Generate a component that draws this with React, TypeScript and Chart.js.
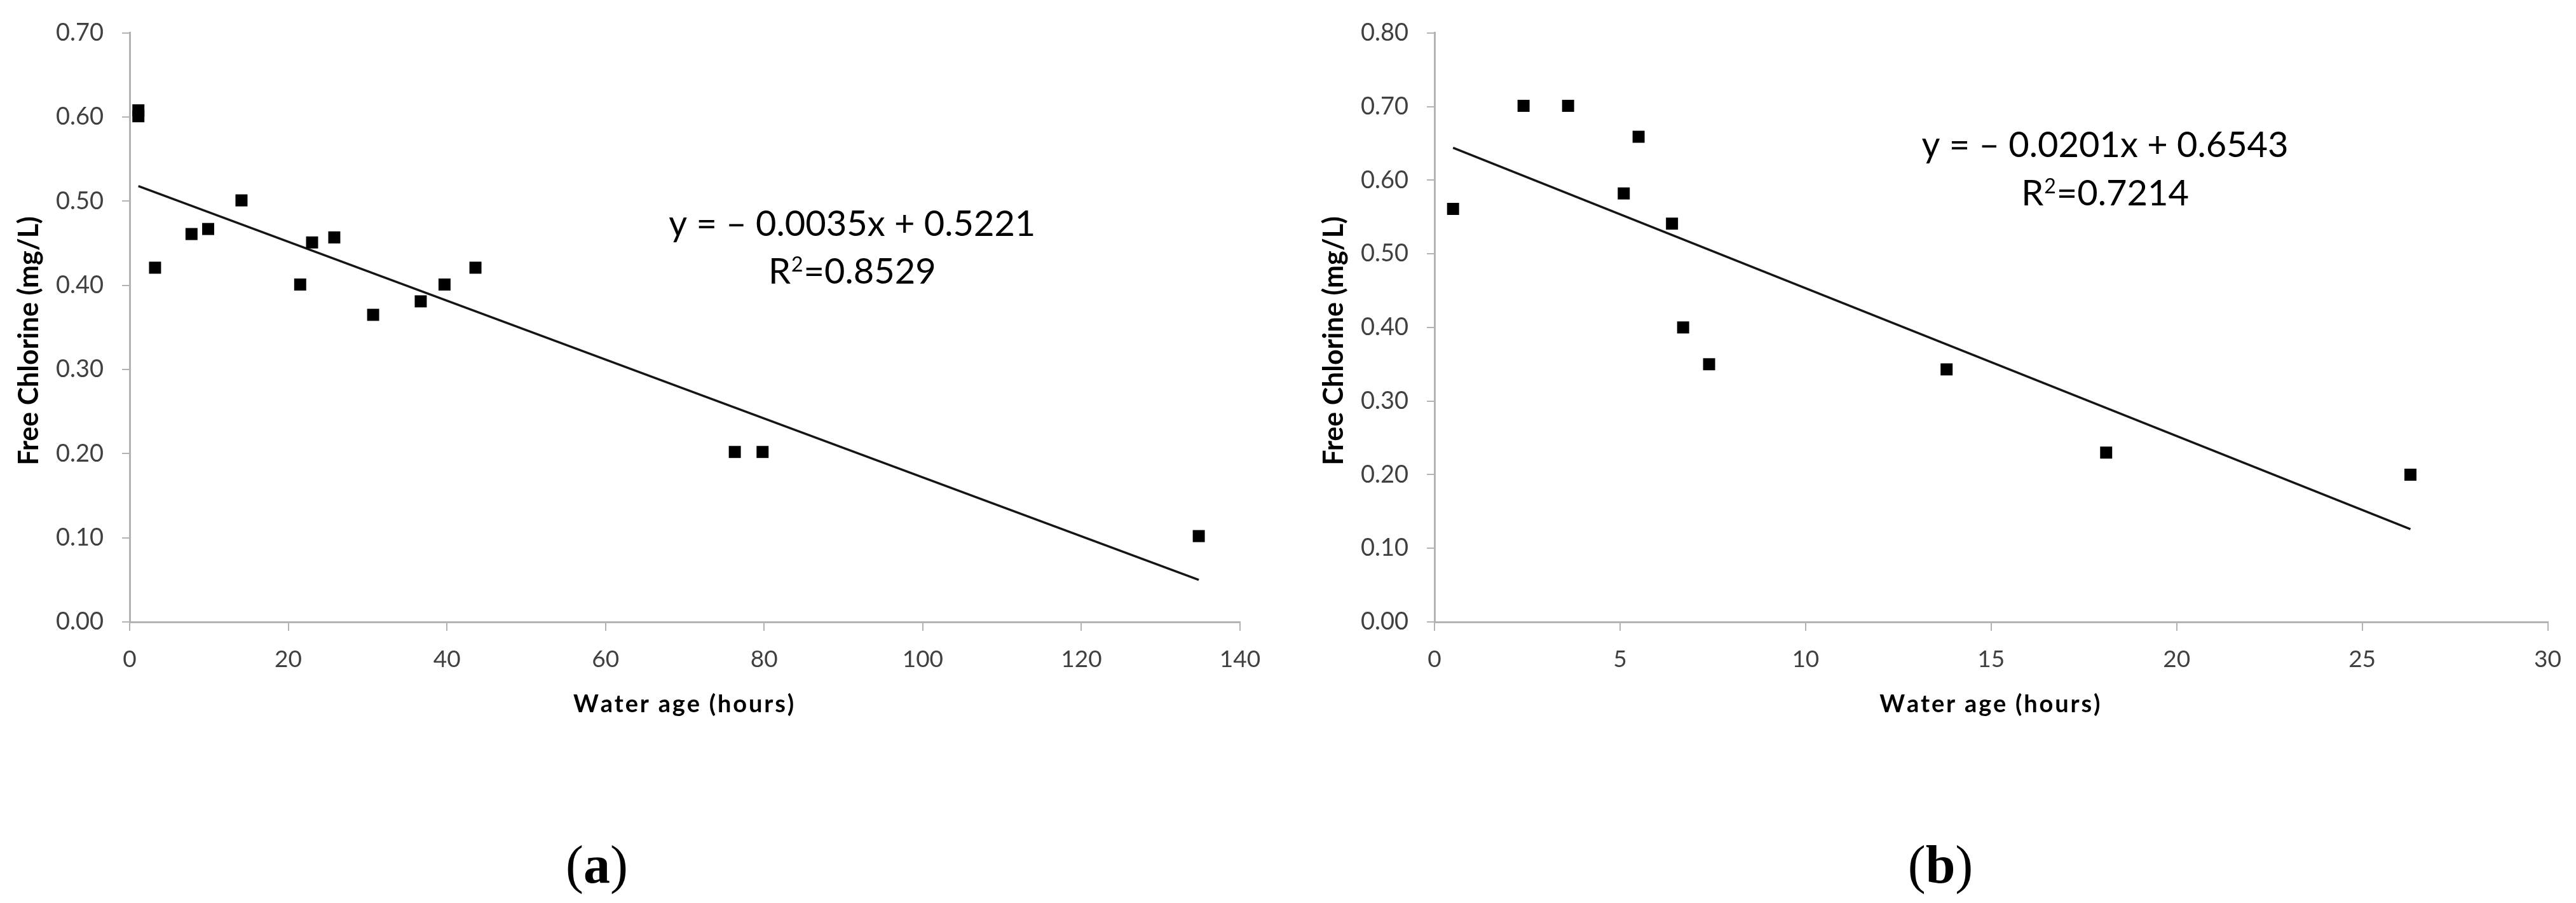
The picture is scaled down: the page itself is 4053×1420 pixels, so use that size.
import React, { useEffect, useRef } from "react";
import { Chart, registerables } from "chart.js";

Chart.register(...registerables);

// ---------- Data: panel (a) ----------
const ageA = [1.1, 1.1, 3.2, 7.8, 9.9, 14.1, 21.5, 23.0, 25.8, 30.7, 36.7, 39.7, 43.6, 76.3, 79.8, 134.8];
const chlorineA = [0.608, 0.601, 0.421, 0.461, 0.467, 0.501, 0.401, 0.451, 0.457, 0.365, 0.381, 0.401, 0.421, 0.202, 0.202, 0.102];
const trendAgeA = [1.1, 134.8];
const trendChlorineA = [0.518, 0.05];
const xTicksA = [0, 20, 40, 60, 80, 100, 120, 140];
const yTicksA = [0, 0.1, 0.2, 0.3, 0.4, 0.5, 0.6, 0.7];
const equationA = "y = \u2013 0.0035x + 0.5221";
const r2A = "=0.8529";

// ---------- Data: panel (b) ----------
const ageB = [0.5, 2.4, 3.6, 5.1, 5.5, 6.4, 6.7, 7.4, 13.8, 18.1, 26.3];
const chlorineB = [0.561, 0.701, 0.701, 0.582, 0.659, 0.541, 0.4, 0.35, 0.343, 0.23, 0.2];
const trendAgeB = [0.5, 26.3];
const trendChlorineB = [0.644, 0.126];
const xTicksB = [0, 5, 10, 15, 20, 25, 30];
const yTicksB = [0, 0.1, 0.2, 0.3, 0.4, 0.5, 0.6, 0.7, 0.8];
const equationB = "y = \u2013 0.0201x + 0.6543";
const r2B = "=0.7214";

const xTitle = "Water age (hours)";
const yTitle = "Free Chlorine (mg/L)";

const AXIS = "#b3b3b3";
const TICK = "#404040";
const FONT = "Lato";

function spacedText(ctx: CanvasRenderingContext2D, text: string, cx: number, y: number, spacing: number) {
  const chars = Array.from(text);
  const widths = chars.map((c) => ctx.measureText(c).width);
  const total = widths.reduce((a, b) => a + b, 0) + spacing * (chars.length - 1);
  let x = cx - total / 2;
  ctx.textAlign = "left";
  chars.forEach((c, i) => {
    ctx.fillText(c, x, y);
    x += widths[i] + spacing;
  });
}

const annotate = {
  id: "annotate",
  afterDraw(chart: any, _args: any, opts: any) {
    const ctx = chart.ctx as CanvasRenderingContext2D;
    const { left, right, top, bottom } = chart.chartArea;
    const xs = chart.scales.x;
    const ys = chart.scales.y;

    // y-axis title
    ctx.save();
    ctx.translate(left - 158, (top + bottom) / 2 + 21);
    ctx.rotate(-Math.PI / 2);
    ctx.font = `bold 43px ${FONT}`;
    ctx.fillStyle = "#000";
    ctx.textAlign = "center";
    ctx.textBaseline = "middle";
    ctx.fillText(yTitle, 0, 0);
    ctx.restore();

    // x-axis title
    ctx.save();
    ctx.font = `bold 38px ${FONT}`;
    ctx.fillStyle = "#000";
    ctx.textBaseline = "alphabetic";
    spacedText(ctx, xTitle, (left + right) / 2 - 2, 1120, 2.8);
    ctx.restore();

    // regression equation
    const ex = xs.getPixelForValue(opts.eqX);
    ctx.save();
    ctx.fillStyle = "#000";
    ctx.textBaseline = "alphabetic";
    ctx.textAlign = "center";
    ctx.font = `56px ${FONT}`;
    ctx.fillText(opts.equation, ex, ys.getPixelForValue(opts.eqY));

    // R² line
    const ry = ys.getPixelForValue(opts.r2Y);
    ctx.textAlign = "left";
    ctx.font = `56px ${FONT}`;
    const wR = ctx.measureText("R").width;
    const wRest = ctx.measureText(opts.r2).width;
    ctx.font = `32px ${FONT}`;
    const w2 = ctx.measureText("2").width;
    const total = wR + w2 + 2 + wRest;
    let cx = ex - total / 2;
    ctx.font = `56px ${FONT}`;
    ctx.fillText("R", cx, ry);
    cx += wR + 1;
    ctx.font = `32px ${FONT}`;
    ctx.fillText("2", cx, ry - 19);
    cx += w2 + 1;
    ctx.font = `56px ${FONT}`;
    ctx.fillText(opts.r2, cx, ry);

    // panel label "(a)" / "(b)"
    const serif = "'Liberation Serif', 'Times New Roman', serif";
    ctx.font = `84px ${serif}`;
    const wp = ctx.measureText("(").width;
    const wq = ctx.measureText(")").width;
    ctx.font = `bold 84px ${serif}`;
    const wl = ctx.measureText(opts.letter).width;
    let px = opts.labelX - (wp + wl + wq) / 2;
    const py = 1388;
    ctx.font = `84px ${serif}`;
    ctx.fillText("(", px, py);
    px += wp;
    ctx.font = `bold 84px ${serif}`;
    ctx.fillText(opts.letter, px, py);
    px += wl;
    ctx.font = `84px ${serif}`;
    ctx.fillText(")", px, py);
    ctx.restore();
  },
};

type PanelSpec = {
  width: number;
  ages: number[];
  values: number[];
  trendX: number[];
  trendY: number[];
  xTicks: number[];
  yTicks: number[];
  padTop: number;
  padRight: number;
  yAxisWidth: number;
  equation: string;
  r2: string;
  eqX: number;
  eqY: number;
  r2Y: number;
  letter: string;
  labelX: number;
};

function makeConfig(p: PanelSpec): any {
  return {
    type: "scatter",
    data: {
      datasets: [
        {
          type: "scatter",
          data: p.ages.map((x, i) => ({ x, y: p.values[i] })),
          pointStyle: "rect",
          pointRadius: 13.4,
          pointHoverRadius: 13.4,
          backgroundColor: "#000",
          borderColor: "#000",
          borderWidth: 0,
          showLine: false,
          clip: false,
        },
        {
          type: "line",
          data: p.trendX.map((x, i) => ({ x, y: p.trendY[i] })),
          borderColor: "#151515",
          borderWidth: 3.5,
          pointRadius: 0,
          fill: false,
          tension: 0,
        },
      ],
    },
    options: {
      animation: false,
      responsive: false,
      devicePixelRatio: 1,
      layout: { padding: { left: 0, top: p.padTop, right: p.padRight, bottom: 294 } },
      plugins: {
        legend: { display: false },
        tooltip: { enabled: false },
        annotate: {
          equation: p.equation,
          r2: p.r2,
          eqX: p.eqX,
          eqY: p.eqY,
          r2Y: p.r2Y,
          letter: p.letter,
          labelX: p.labelX,
        },
      },
      scales: {
        x: {
          type: "linear",
          min: p.xTicks[0],
          max: p.xTicks[p.xTicks.length - 1],
          afterBuildTicks: (s: any) => {
            s.ticks = p.xTicks.map((v) => ({ value: v }));
          },
          afterFit: (s: any) => {
            s.height = 148;
          },
          grid: { drawOnChartArea: false, drawTicks: true, tickLength: 14, color: AXIS, lineWidth: 2 },
          border: { display: true, color: AXIS, width: 3 },
          ticks: {
            font: { family: FONT, size: 37 },
            color: TICK,
            padding: 23,
            maxRotation: 0,
            autoSkip: false,
            callback: (v: any) => String(v),
          },
          title: { display: false },
        },
        y: {
          type: "linear",
          min: p.yTicks[0],
          max: p.yTicks[p.yTicks.length - 1],
          afterBuildTicks: (s: any) => {
            s.ticks = p.yTicks.map((v) => ({ value: v }));
          },
          afterFit: (s: any) => {
            s.width = p.yAxisWidth;
          },
          grid: { drawOnChartArea: false, drawTicks: true, tickLength: 12, color: AXIS, lineWidth: 2 },
          border: { display: true, color: AXIS, width: 3 },
          ticks: {
            font: { family: FONT, size: 38 },
            color: TICK,
            padding: 29,
            autoSkip: false,
            callback: (v: any) => Number(v).toFixed(2),
          },
        },
      },
    },
    plugins: [annotate],
  };
}

const panelA: PanelSpec = {
  width: 2026,
  ages: ageA,
  values: chlorineA,
  trendX: trendAgeA,
  trendY: trendChlorineA,
  xTicks: xTicksA,
  yTicks: yTicksA,
  padTop: 44.6,
  padRight: 75,
  yAxisWidth: 204,
  equation: equationA,
  r2: r2A,
  eqX: 91.1,
  eqY: 0.4586,
  r2Y: 0.4017,
  letter: "a",
  labelX: 939,
};

const panelB: PanelSpec = {
  width: 2027,
  ages: ageB,
  values: chlorineB,
  trendX: trendAgeB,
  trendY: trendChlorineB,
  xTicks: xTicksB,
  yTicks: yTicksB,
  padTop: 50.4,
  padRight: 43,
  yAxisWidth: 231,
  equation: equationB,
  r2: r2B,
  eqX: 18.07,
  eqY: 0.631,
  r2Y: 0.5655,
  letter: "b",
  labelX: 1027,
};

function Panel({ spec, left }: { spec: PanelSpec; left: number }) {
  const ref = useRef<HTMLCanvasElement>(null);
  useEffect(() => {
    if (!ref.current) return;
    const chart = new Chart(ref.current, makeConfig(spec));
    return () => chart.destroy();
  }, [spec]);
  return (
    <canvas
      ref={ref}
      width={spec.width}
      height={1420}
      style={{ position: "absolute", left, top: 0, width: spec.width, height: 1420 }}
    />
  );
}

export default function App() {
  useEffect(() => {
    document.body.style.margin = "0";
  }, []);
  return (
    <div
      style={{
        position: "absolute",
        left: 0,
        top: 0,
        width: 4053,
        height: 1420,
        background: "#fff",
        overflow: "hidden",
      }}
    >
      <Panel spec={panelA} left={0} />
      <Panel spec={panelB} left={2026} />
    </div>
  );
}
